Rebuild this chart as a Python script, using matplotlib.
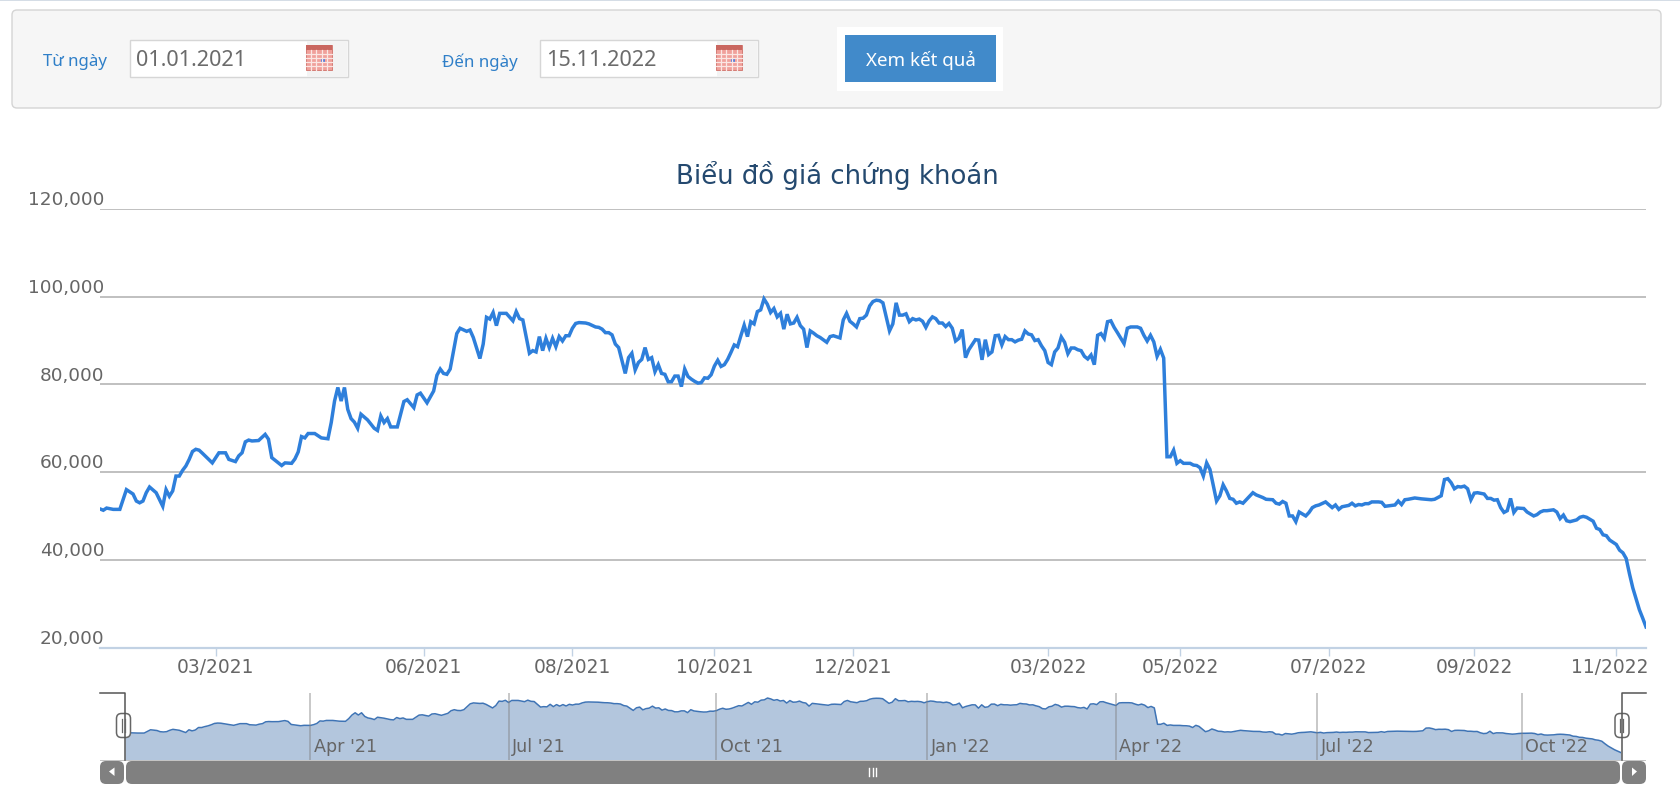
import matplotlib
matplotlib.use("Agg")
import matplotlib.pyplot as plt
from matplotlib.patches import Rectangle, FancyBboxPatch, Polygon
from matplotlib.transforms import ScaledTranslation

W, H = 1681, 804

# --- data (session number since 01.01.2021, price) ---
sessions = [0, 1, 2, 4, 6, 8, 10, 11, 12, 13, 14, 15, 17, 19, 20, 21, 22, 23, 24, 25, 26, 27, 28, 29, 30, 31, 34, 36, 38, 39,
            41, 42, 43, 44, 45, 46, 48, 50, 51, 52, 53, 55, 56, 58, 59, 60, 61, 62, 63, 65, 67, 69, 70, 71, 72, 73, 74, 75, 76, 77,
            78, 79, 81, 83, 84, 85, 86, 87, 88, 90, 92, 93, 95, 96, 97, 99, 101, 102, 103, 104, 105, 106, 108, 109, 111, 112, 113, 115, 116, 117,
            118, 119, 120, 121, 123, 125, 126, 127, 128, 130, 131, 132, 133, 134, 135, 136, 137, 138, 139, 140, 141, 142, 143, 144, 145, 147, 148,
            150, 151, 152, 153, 154, 155, 156, 157, 159, 160, 161, 162, 163, 164, 165, 166, 167, 168, 169, 170, 171, 172, 173, 174, 175, 176, 177, 178,
            179, 180, 181, 182, 183, 184, 185, 186, 187, 188, 189, 190, 191, 192, 193, 194, 195, 196, 197, 198, 199, 200, 201, 202, 203, 204, 205, 206, 207, 208,
            209, 210, 211, 212, 213, 214, 215, 216, 217, 218, 220, 221, 222, 224, 225, 226, 227, 228, 229, 230, 231, 232, 233, 234, 235, 236, 237, 239, 240, 241,
            242, 243, 244, 245, 246, 247, 248, 249, 250, 251, 252, 253, 254, 255, 256, 257, 258, 259, 260, 261, 262, 263, 265, 266, 267, 268, 269, 270, 271, 272,
            273, 274, 275, 276, 277, 278, 279, 280, 281, 282, 283, 284, 285, 286, 287, 288, 289, 290, 291, 292, 293, 294, 295, 296, 297, 298, 299, 300, 301, 302,
            303, 304, 305, 306, 307, 308, 310, 311, 312, 314, 315, 316, 317, 318, 319, 320, 321, 322, 323, 324, 325, 326, 327, 328, 330, 331, 332, 333, 334, 335,
            336, 338, 339, 340, 341, 342, 343, 344, 345, 346, 349, 350, 352, 353, 355, 356, 357, 358, 359, 360, 361, 362, 363, 365, 366, 367, 368, 369, 371, 373,
            374, 375, 376, 378, 379, 380, 381, 382, 383, 384, 385, 387, 388, 389, 391, 392, 393, 394, 395, 396, 398, 400, 403, 404, 406, 407, 408, 409, 410, 411,
            412, 413, 414, 415, 416, 417, 419, 420, 421, 422, 423, 424, 425, 426, 427, 428, 429, 431, 432, 434, 435, 436, 437, 438, 440, 441, 442, 443, 444, 445,
            447, 448, 449, 450, 452, 453, 454, 455, 456, 457, 459, 460, 461, 462, 463, 464, 465, 466, 467, 468]
prices = [51600, 51300, 51800, 51500, 51500, 56000, 55000, 53400, 53000, 53400, 55300, 56600, 55300, 52200, 56000, 54500, 55700, 59100, 59100, 60400, 61400, 62900, 64700, 65200, 65000, 64300, 62100, 64400, 64400, 62900,
          62400, 63700, 64400, 66900, 67300, 67100, 67200, 68600, 67500, 63300, 62700, 61500, 62100, 62000, 63000, 64600, 68100, 67800, 68800, 68800, 67800, 67600, 71300, 76200, 79300, 76200, 79300, 74300, 72200, 71400,
          70000, 73200, 71900, 70000, 69500, 72800, 71300, 72200, 70300, 70300, 76100, 76500, 74700, 77600, 78000, 75800, 78500, 82100, 83500, 82500, 82300, 83500, 91600, 92800, 92100, 92400, 90700, 85900, 89200, 95300,
          94900, 96400, 93400, 96200, 96200, 94500, 96600, 95000, 94700, 87100, 87700, 87400, 90900, 87700, 90500, 88400, 90500, 88600, 90900, 89900, 91100, 91100, 92800, 93900, 94100, 94000, 93800,
          93100, 93000, 92600, 91800, 91800, 91300, 89200, 88400, 82500, 86100, 87100, 83300, 85000, 85700, 88400, 85700, 86100, 82900, 84500, 82500, 82300, 80600, 80600, 81900, 81900, 79500, 83500, 81800,
          81200, 80700, 80300, 80400, 81500, 81400, 82200, 84200, 85500, 84100, 84500, 85700, 87300, 89000, 88600, 91100, 93500, 90900, 94300, 93800, 96600, 97000, 99500, 98300, 96400, 97300, 95400, 96200, 92600, 96000,
          93800, 94000, 95300, 93400, 92600, 88400, 92200, 91700, 91100, 90700, 89600, 90900, 91100, 90600, 94700, 96200, 94400, 93800, 93100, 95000, 95100, 95800, 97900, 98900, 99200, 99100, 98600, 92200, 93800, 98600,
          95800, 95800, 96100, 94300, 95000, 94700, 94900, 94400, 93000, 94500, 95400, 95000, 94000, 94000, 93200, 93900, 92800, 89900, 90500, 92500, 86100, 87900, 90200, 90100, 85600, 90200, 86800, 87400, 91100, 91200,
          89000, 90900, 90200, 90200, 89700, 90100, 90300, 92200, 91500, 91300, 90000, 90200, 88800, 87700, 85000, 84500, 87400, 88300, 90800, 89600, 87000, 88300, 88300, 87900, 87700, 86400, 85800, 86700, 84500, 91200,
          91600, 90500, 94300, 94500, 93000, 91800, 89300, 92800, 93100, 93100, 92800, 91200, 89900, 91200, 89700, 86400, 88000, 86000, 63500, 63500, 65000, 62000, 62600, 62000, 62000, 61600, 61500, 61000, 59100, 62100,
          60600, 53400, 54600, 57100, 55700, 54000, 53800, 52900, 53200, 52900, 55300, 54800, 54200, 53800, 53700, 52900, 52700, 53300, 52900, 50000, 50000, 48700, 50900, 50000, 50800, 51900, 52300, 52500, 53200, 51900,
          52500, 51500, 52100, 52400, 52900, 52300, 52600, 52500, 52800, 52800, 53200, 53200, 53100, 52200, 52400, 52500, 53400, 52600, 53700, 53800, 54100, 53900, 53700, 53800, 54600, 58300, 58500, 57600, 56200, 56700,
          56600, 56800, 56200, 53700, 55200, 55300, 55000, 54000, 54000, 53600, 53700, 51900, 50800, 51200, 54000, 50800, 51800, 51700, 50900, 50000, 50300, 50900, 51200, 51200, 51400, 50900, 49400, 50200, 48900, 48700,
          49100, 49700, 49900, 49700, 48800, 47200, 46900, 45700, 45500, 44500, 43500, 42200, 41600, 40300, 36800, 33600, 31100, 28600, 26700, 24700]

y_ticks = [20000, 40000, 60000, 80000, 100000, 120000]
x_tick_pos = [35, 98, 143, 186, 228, 287, 327, 372, 416, 459]
x_tick_labels = ["03/2021", "06/2021", "08/2021", "10/2021", "12/2021", "03/2022", "05/2022", "07/2022", "09/2022", "11/2022"]
nav_tick_pos = [58, 120, 185, 251, 310, 373, 437]
nav_tick_labels = ["Apr '21", "Jul '21", "Oct '21", "Jan '22", "Apr '22", "Jul '22", "Oct '22"]

title = "Biểu đồ giá chứng khoán"
from_label, to_label = "Từ ngày", "Đến ngày"
from_date, to_date = "01.01.2021", "15.11.2022"
button_label = "Xem kết quả"

plt.rcParams["font.family"] = ["DejaVu Sans"]
GREY = "#666666"
LINK = "#2f7fc8"

fig = plt.figure(figsize=(W / 100, H / 100), dpi=100, facecolor="white")


def axes_px(x0, y0, x1, y1):
    # pixel box, y measured from the top
    return fig.add_axes([x0 / W, 1 - y1 / H, (x1 - x0) / W, (y1 - y0) / H])


# --- page layer in pixels ---
bg = fig.add_axes([0, 0, 1, 1])
bg.set_xlim(0, W)
bg.set_ylim(H, 0)
bg.axis("off")
bg.add_patch(Rectangle((0, 0), W, 1.5, fc="#d5dde6", ec="none"))
bg.add_patch(FancyBboxPatch((15, 14), W - 38, 92, boxstyle="round,pad=3,rounding_size=5", fc="#f6f6f6", ec="#d4d4d4", lw=1))


def date_box(x, label, label_x, value):
    bg.add_patch(Rectangle((x, 41), 218, 37, fc="white", ec="#d6d6d6", lw=1))
    bg.add_patch(Rectangle((x + 177, 41.5), 40.5, 36, fc="#f3f3f3", ec="none"))
    # calendar icon
    bg.add_patch(Rectangle((x + 176, 46), 26, 25, fc="#f0a09a", ec="#d07068", lw=0.6))
    bg.add_patch(Rectangle((x + 176, 46), 26, 5, fc="#c9665f", ec="none"))
    for k in range(1, 5):
        bg.plot([x + 176 + k * 5.2] * 2, [51, 71], color="#fbe6e3", lw=0.9)
        bg.plot([x + 176, x + 202], [51 + k * 4] * 2, color="#fbe6e3", lw=0.9)
    bg.add_patch(Rectangle((x + 191, 60), 4, 4, fc="#5a7fd8", ec="none"))
    bg.text(x + 6, 61, value, fontsize=15.6, color="#6b6b6b", va="center", ha="left", family="Noto Sans")
    bg.text(label_x, 62, label, fontsize=12.2, color=LINK, va="center", ha="left", family="Noto Sans")


date_box(130, from_label, 43, from_date)
date_box(540, to_label, 442, to_date)
bg.add_patch(Rectangle((837, 28), 166, 64, fc="white", ec="none"))
bg.add_patch(Rectangle((845, 36), 151, 47, fc="#418aca", ec="none"))
bg.text(920.5, 60, button_label, fontsize=13.5, color="white", va="center", ha="center", family="Noto Sans")
bg.text(837, 175, title, fontsize=18.7, color="#24496f", va="center", ha="center")

# --- main chart ---
ax = axes_px(100, 210, 1646, 648.5)
ax.plot(sessions, prices, color="#2e7fdb", lw=2.5, solid_joinstyle="miter", clip_on=True)
ax.set_xlim(0, 468)
ax.set_ylim(20000, 120000)
ax.set_yticks(y_ticks)
ax.set_yticklabels([])
ax.set_xticks(x_tick_pos)
ax.set_xticklabels(x_tick_labels, fontsize=13.4, color=GREY)
ax.tick_params(axis="y", length=0)
ax.tick_params(axis="x", length=5.8, width=1, color="#c2d2e4", pad=1)
# last label is pushed left so it stays inside the plot
last = ax.get_xticklabels()[-1]
last.set_transform(last.get_transform() + ScaledTranslation(-7 / 100, 0, fig.dpi_scale_trans))
ax.grid(axis="y", color="#c0c0c0", lw=1.4)
ax.set_axisbelow(True)
for side in ["top", "left", "right"]:
    ax.spines[side].set_visible(False)
ax.spines["bottom"].set_color("#c2d2e4")
ax.spines["bottom"].set_linewidth(1.6)
ax.patch.set_alpha(0)
for v in y_ticks:
    ax.annotate(f"{v:,}", (0, v), xytext=(3, 0.5), textcoords="offset points", annotation_clip=False,
                ha="right", va="bottom", fontsize=13.3, color=GREY)

# --- navigator ---
nav = axes_px(125, 694, 1621, 761)
nav.fill_between(sessions, prices, 14600, color="#b3c6dd", lw=0)
nav.plot(sessions, prices, color="#3f74b5", lw=1.1)
nav.set_xlim(0, 468)
nav.set_ylim(14600, 106400)
nav.set_yticks([])
nav.set_xticks(nav_tick_pos)
nav.set_xticklabels([])
nav.tick_params(axis="x", length=0)
nav.grid(axis="x", color="#808080", alpha=0.5, lw=1.2)
nav.set_axisbelow(False)
nav.patch.set_alpha(0)
for side in nav.spines:
    nav.spines[side].set_visible(False)
for p, lab in zip(nav_tick_pos, nav_tick_labels):
    nav.annotate(lab, (p, 14600), xytext=(2.5, 3.6), textcoords="offset points", ha="left", va="bottom",
                 fontsize=12.6, color=GREY)

# --- navigator handles and scrollbar ---
top = fig.add_axes([0, 0, 1, 1])
top.set_xlim(0, W)
top.set_ylim(H, 0)
top.axis("off")
top.plot([100, 125, 125], [694, 694, 761], color="#555555", lw=1.1)
top.plot([1646, 1622, 1622], [694, 694, 761], color="#555555", lw=1.1)
for hx in [123.5, 1622]:
    top.add_patch(FancyBboxPatch((hx - 4.5, 717), 9, 19, boxstyle="round,pad=2.5,rounding_size=5", fc="white", ec="#666666", lw=1.1))
    top.plot([hx - 1.5] * 2, [720, 733], color="#666666", lw=0.9)
    top.plot([hx + 1.5] * 2, [720, 733], color="#666666", lw=0.9)
top.add_patch(Rectangle((100, 760.5), 1546, 1.5, fc="#c4c4c4", ec="none"))
for x0, x1 in [(100, 124), (126, 1620), (1622, 1646)]:
    top.add_patch(FancyBboxPatch((x0 + 5, 767), x1 - x0 - 10, 13, boxstyle="round,pad=5,rounding_size=6", fc="#808080", ec="none"))
top.add_patch(Polygon([[109, 772.5], [114.5, 768.5], [114.5, 777]], fc="white", ec="none"))
top.add_patch(Polygon([[1637, 772.5], [1632, 768.5], [1632, 777]], fc="white", ec="none"))
for gx in [869.5, 873, 876.5]:
    top.plot([gx, gx], [769, 777], color="white", lw=1)

fig.savefig("out.png", dpi=100)
